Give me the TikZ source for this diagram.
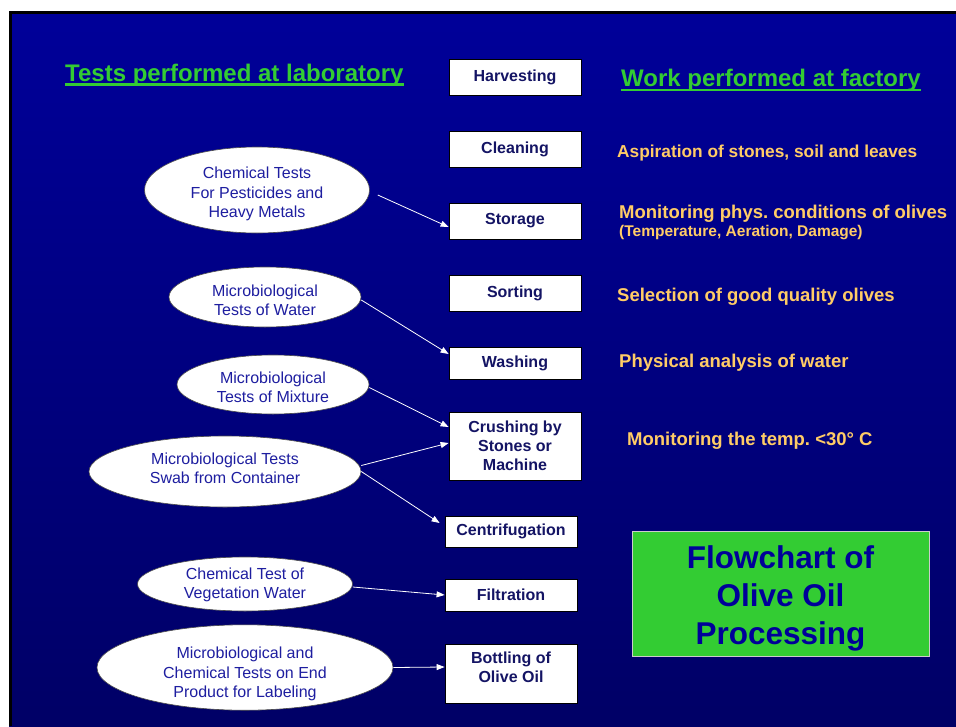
\documentclass[tikz,border=0pt]{standalone}
\usepackage{fontspec}
\setmainfont{Liberation Sans}
\frenchspacing
\usetikzlibrary{shapes.geometric,arrows.meta}
\definecolor{slidetop}{RGB}{0,0,153}
\definecolor{slidemid}{RGB}{0,0,142}
\definecolor{slidebottom}{RGB}{0,0,102}
\definecolor{boxtext}{RGB}{20,20,100}
\definecolor{ovaltext}{RGB}{30,30,160}
\definecolor{worktext}{RGB}{255,204,102}
\definecolor{headgreen}{RGB}{51,204,51}
\definecolor{titletext}{RGB}{0,0,153}
\begin{document}
\begin{tikzpicture}[x=1pt,y=-1pt,
    stepbox/.style={draw=black,line width=0.8pt,fill=white,minimum width=132pt,inner sep=0pt,text=boxtext,font=\bfseries\fontsize{16}{19}\selectfont,align=center},
    testoval/.style={ellipse,draw=black!70,line width=0.6pt,fill=white,inner sep=0pt,text=ovaltext,font=\fontsize{16}{19.5}\selectfont,align=center,text depth=0pt},
    worknote/.style={anchor=base west,inner sep=0pt,text=worktext,font=\bfseries\fontsize{18.5}{22}\selectfont},
    headline/.style={anchor=base west,inner sep=0pt,text=headgreen,font=\bfseries\fontsize{24}{28}\selectfont},
    arr/.style={draw=white,line width=0.8pt,-{Triangle[length=8pt,width=6pt]}}]
        \useasboundingbox (0,0) rectangle (956,726);
        \fill[white] (0,0) rectangle (956,726);
        \shade[top color=slidetop, middle color=slidemid, bottom color=slidebottom] (9,11) rectangle (956,726);
        \draw[line width=3pt] (10.5,726) -- (10.5,12.5) -- (956,12.5);
        \node [headline] (labhead) at (65,81) {Tests performed at laboratory};
        \draw[headgreen, line width=2.5pt] ([yshift=-3.5pt]labhead.base west) -- ([yshift=-3.5pt]labhead.base east);
        \node [headline] (factoryhead) at (621,86) {Work performed at factory};
        \draw[headgreen, line width=2.5pt] ([yshift=-4pt]factoryhead.base west) -- ([yshift=-4pt]factoryhead.base east);
        \node [stepbox, minimum height=36pt] (harvesting) at (515,77) {Harvesting};
        \node [stepbox, minimum height=36pt] (cleaning) at (515,149) {Cleaning};
        \node [stepbox, minimum height=36pt] (storage) at (515,221) {Storage};
        \node [stepbox, minimum height=36pt] (sorting) at (515,293) {Sorting};
        \node [stepbox, minimum height=32pt] (washing) at (515,363) {Washing};
        \node [stepbox, minimum height=68pt] (crushing) at (515,446) {Crushing by\\Stones or\\Machine};
        \node [stepbox, minimum height=31pt] (centrifugation) at (511,531.5) {Centrifugation};
        \node [stepbox, minimum height=32pt] (filtration) at (511,595) {Filtration};
        \node [stepbox, minimum height=59pt, text height=18.4pt, text depth=0pt] (bottling) at (511,673.5) {Bottling of\\Olive Oil};
        \node [testoval, minimum width=225pt, minimum height=86pt, text height=55.4pt] (chemtests) at (257,190) {Chemical Tests\\For Pesticides and\\Heavy Metals};
        \node [testoval, minimum width=192pt, minimum height=60pt, text height=37.4pt] (watertests) at (265,297) {Microbiological\\Tests of Water};
        \node [testoval, minimum width=192pt, minimum height=59pt, text height=36.4pt] (mixturetests) at (273,384.5) {Microbiological\\Tests of Mixture};
        \node [testoval, minimum width=272pt, minimum height=71pt, text height=24.4pt] (swabtests) at (225,471.5) {Microbiological Tests\\Swab from Container};
        \node [testoval, minimum width=215pt, minimum height=54pt, text height=29.4pt] (vegtests) at (245,584) {Chemical Test of\\Vegetation Water};
        \node [testoval, minimum width=296pt, minimum height=79pt, text height=60.4pt] (endtests) at (245,667.5) {Microbiological and\\Chemical Tests on End\\Product for Labeling};
        \draw[arr] ([xshift=8pt,yshift=-5pt]chemtests.east) -- ([yshift=-6pt]storage.west);
        \draw[arr] ([yshift=-3pt]watertests.east) -- ([yshift=9pt]washing.west);
        \draw[arr] ([yshift=-3pt]mixturetests.east) -- ([yshift=19pt]crushing.west);
        \draw[arr] ([yshift=6pt]swabtests.east) -- ([yshift=3pt]crushing.west);
        \draw[arr] (swabtests.east) -- ([xshift=-5pt,yshift=8.5pt]centrifugation.west);
        \draw[arr] ([yshift=-3pt]vegtests.east) -- (filtration.west);
        \draw[arr] (endtests.east) -- ([yshift=6.5pt]bottling.west);
        \node [worknote, font=\bfseries\fontsize{17.3}{21}\selectfont] (aspiration) at (617,157) {Aspiration of stones, soil and leaves};
        \node [worknote] (monitorphys) at (619,218) {Monitoring phys. conditions of olives};
        \node [worknote, font=\bfseries\fontsize{15.5}{19}\selectfont] (conditions) at (619,236) {(Temperature, Aeration, Damage)};
        \node [worknote] (selection) at (617,301) {Selection of good quality olives};
        \node [worknote] (wateranalysis) at (619,367) {Physical analysis of water};
        \node [worknote] (monitortemp) at (627,445) {Monitoring the temp. <30° C};
        \node [draw=white!80!black, line width=1pt, fill=headgreen, minimum width=297pt, minimum height=125pt, inner sep=0pt, text=titletext, align=center, text height=102pt, text depth=0pt, font=\bfseries\fontsize{31.5}{38}\selectfont] (flowtitle) at (780.5,593.5) {Flowchart of\\Olive Oil\\Processing};
    \end{tikzpicture}
\end{document}
